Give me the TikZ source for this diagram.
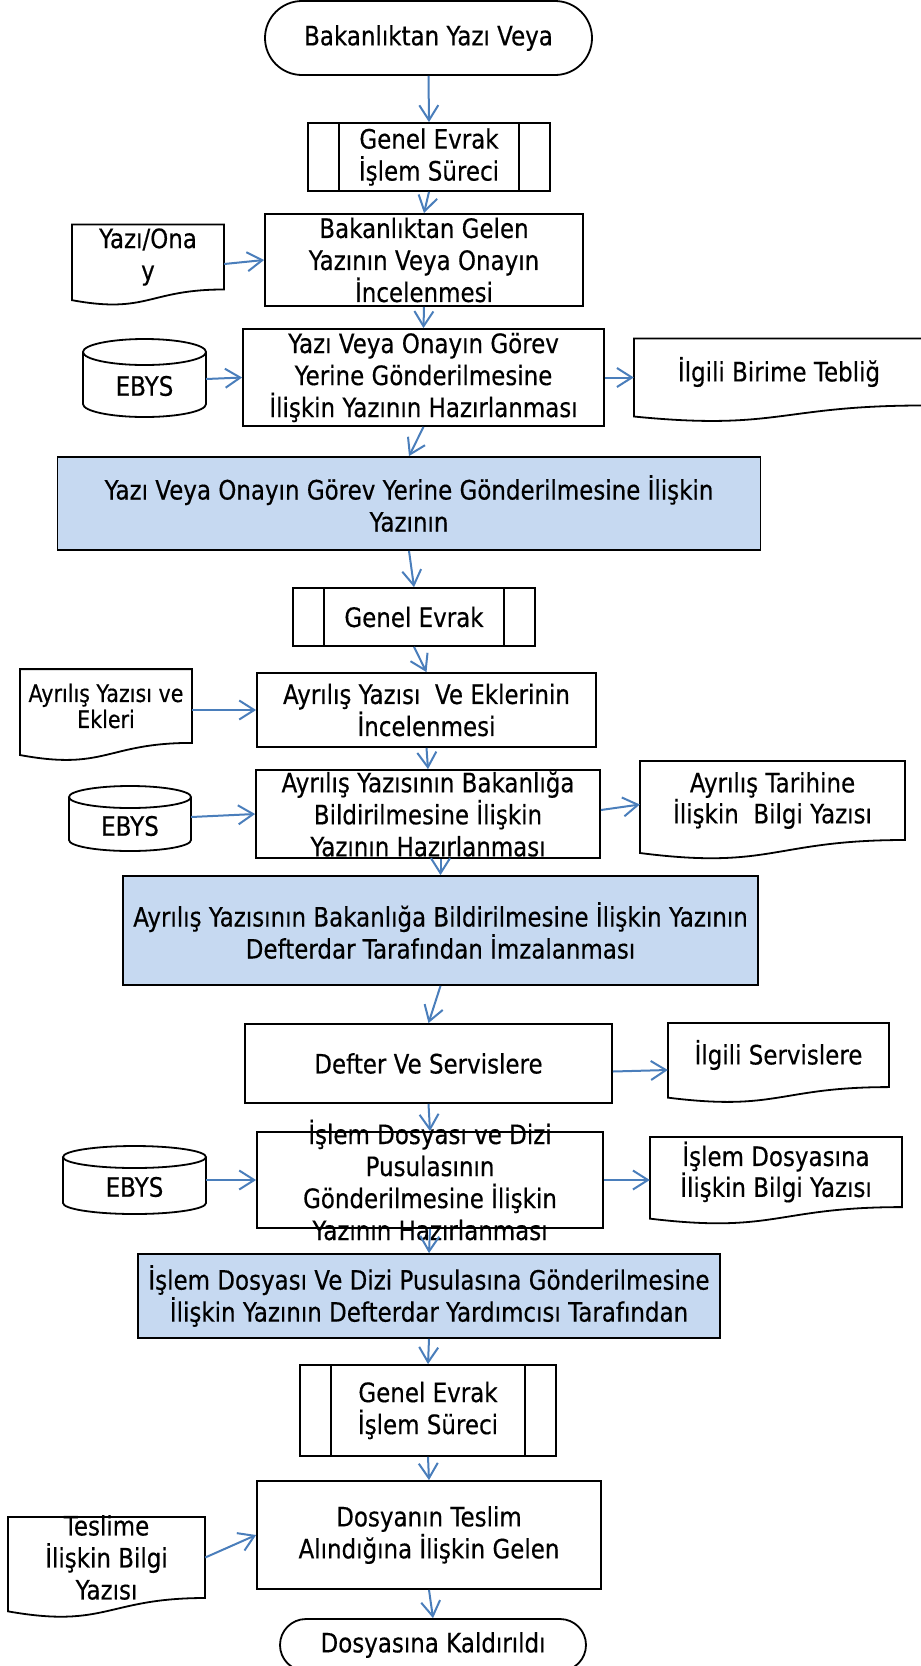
\documentclass[tikz,border=0pt]{standalone}
\usepackage{fontspec}
\setmainfont{DejaVu Sans}[FakeStretch=0.86, FakeBold=0.4]
\usetikzlibrary{calc}
\usetikzlibrary{shapes.misc}
\usetikzlibrary{arrows.meta}

\definecolor{flowblue}{RGB}{74,126,187}
\definecolor{boxblue}{RGB}{198,217,241}

\tikzset{
  txt/.style={align=center, font=\fontsize{26.7pt}{32pt}\selectfont},
  smalltxt/.style={align=center, font=\fontsize{24pt}{26pt}\selectfont},
  tighttxt/.style={align=center, font=\fontsize{26.7pt}{23pt}\selectfont},
  shapeline/.style={draw=black, line width=1.8pt},
  proc/.style={shapeline, rectangle, inner sep=0pt},
  imza/.style={proc, fill=boxblue},
  predef/.style={proc, path picture={
    \draw[line width=1.8pt] ([xshift=31pt]path picture bounding box.north west) -- ([xshift=31pt]path picture bounding box.south west)
      ([xshift=-31pt]path picture bounding box.north east) -- ([xshift=-31pt]path picture bounding box.south east);}},
  term/.style={shapeline, rounded rectangle, inner sep=0pt, txt},
  holder/.style={rectangle, inner sep=0pt},
  flow/.style={draw=flowblue, line width=2pt, -{Straight Barb[length=15pt,width=19pt]}}
}

% document outline: node, half width, frame height
\newcommand{\docline}[3]{%
  \draw[shapeline] ($(#1.center)+(-#2,-0.401*#3)$) -- ++(2*#2,0) -- ++(0,0.802*#3)
    .. controls ($(#1.center)+(0,0.401*#3)$) and ($(#1.center)+(0,0.706*#3)$) .. ($(#1.center)+(-#2,0.533*#3)$) -- cycle;}
% cylinder outline: node, half width, up, down, ellipse radius
\newcommand{\cylline}[5]{%
  \draw[shapeline] ($(#1.center)+(-#2,-#3+#5)$) -- ($(#1.center)+(-#2,#4-#5)$)
    arc[start angle=180, end angle=360, x radius=#2pt, y radius=#5pt] -- ($(#1.center)+(#2,-#3+#5)$);
  \draw[shapeline] ($(#1.center)+(0,-#3+#5)$) ellipse[x radius=#2pt, y radius=#5pt];}

\begin{document}
\begin{tikzpicture}[x=1pt, y=-1pt]
\useasboundingbox (0,0) rectangle (921,1666);
\clip (0,0) rectangle (921,1666);

\node[term, minimum width=327pt, minimum height=74pt] (start) at (428.5,38) {Bakanlıktan Yazı Veya};
\node[predef, minimum width=242pt, minimum height=68pt, label={[txt]center:Genel Evrak\\İşlem Süreci}] (gen1) at (429,157) {};
\node[proc, minimum width=318pt, minimum height=92pt, label={[txt]center:Bakanlıktan Gelen\\Yazının Veya Onayın\\İncelenmesi}] (inc1) at (424,260) {};
\node[proc, minimum width=361pt, minimum height=97pt, label={[txt]center:Yazı Veya Onayın Görev\\Yerine Gönderilmesine\\İlişkin Yazının Hazırlanması}] (haz1) at (423.5,377.5) {};
\node[imza, minimum width=703pt, minimum height=93pt, label={[txt]center:Yazı Veya Onayın Görev Yerine Gönderilmesine İlişkin\\Yazının}] (imza1) at (409,503.5) {};
\node[predef, minimum width=242pt, minimum height=58pt, label={[txt]center:Genel Evrak}] (gen2) at (414,617) {};
\node[proc, minimum width=339pt, minimum height=74pt, label={[txt]center:Ayrılış Yazısı\ \ Ve Eklerinin\\İncelenmesi}] (inc2) at (426.5,710) {};
\node[proc, minimum width=344pt, minimum height=88pt, label={[txt]center:Ayrılış Yazısının Bakanlığa\\Bildirilmesine İlişkin\\Yazının Hazırlanması}] (haz2) at (428,814) {};
\node[imza, minimum width=635pt, minimum height=109pt, label={[txt]center:Ayrılış Yazısının Bakanlığa Bildirilmesine İlişkin Yazının\\Defterdar Tarafından İmzalanması}] (imza2) at (440.5,930.5) {};
\node[proc, minimum width=367pt, minimum height=79pt, label={[txt]center:Defter Ve Servislere}] (defter) at (428.5,1063.5) {};
\node[proc, minimum width=346pt, minimum height=96pt, label={[txt]center:İşlem Dosyası ve Dizi\\Pusulasının\\Gönderilmesine İlişkin\\Yazının Hazırlanması}] (haz3) at (430,1180) {};
\node[imza, minimum width=582pt, minimum height=84pt, label={[txt]center:İşlem Dosyası Ve Dizi Pusulasına Gönderilmesine\\İlişkin Yazının Defterdar Yardımcısı Tarafından}] (imza3) at (429,1296) {};
\node[predef, minimum width=256pt, minimum height=91pt, label={[txt]center:Genel Evrak\\İşlem Süreci}] (gen3) at (428,1410.5) {};
\node[proc, minimum width=344pt, minimum height=108pt, label={[txt]center:Dosyanın Teslim\\Alındığına İlişkin Gelen}] (teslim) at (429,1535) {};
\node[term, minimum width=306pt, minimum height=52pt] (end) at (433,1645) {Dosyasına Kaldırıldı};

% documents
\node[holder, minimum width=152pt, minimum height=65pt, label={[txt]center:Yazı/Ona\\y}] (d1) at (148,257) {};
\node[holder, minimum width=290pt, minimum height=67pt, label={[txt]center:İlgili Birime Tebliğ}] (d2) at (779,372) {};
\node[holder, minimum width=172pt, minimum height=74pt, label={[smalltxt]center:Ayrılış Yazısı ve\\Ekleri}] (d3) at (106,706) {};
\node[holder, minimum width=265pt, minimum height=79pt, label={[tighttxt]center:Ayrılış Tarihine\\İlişkin\ \ Bilgi Yazısı}] (d4) at (772.5,800.5) {};
\node[holder, minimum width=221pt, minimum height=64pt, label={[txt]center:İlgili Servislere}] (d5) at (778.5,1055) {};
\node[holder, minimum width=252pt, minimum height=70pt, label={[tighttxt]center:İşlem Dosyasına\\İlişkin Bilgi Yazısı}] (d6) at (776,1172) {};
\node[holder, minimum width=197pt, minimum height=81pt, label={[txt]center:Teslime\\İlişkin Bilgi\\Yazısı}] (d7) at (106.5,1557.5) {};
\docline{d1}{76}{81}
\docline{d2}{145}{83.5}
\docline{d3}{86}{92}
\docline{d4}{132.5}{98.5}
\docline{d5}{110.5}{80}
\docline{d6}{126}{87.5}
\docline{d7}{98.5}{101}

% databases
\node[holder, minimum width=123pt, label={[txt]center:EBYS}] (c1) at (144.5,386) {};
\node[holder, minimum width=122pt, label={[txt]center:EBYS}] (c2) at (130,826) {};
\node[holder, minimum width=143pt, label={[txt]center:EBYS}] (c3) at (134.5,1187) {};
\cylline{c1}{61.5}{47}{31}{13}
\cylline{c2}{61}{40}{25}{11}
\cylline{c3}{71.5}{41}{27}{11}

\draw[flow] (start.south) -- (gen1.north);
\draw[flow] (gen1.south) -- (inc1.north);
\draw[flow] ([shift={(0,7)}]d1.east) -- (inc1.west);
\draw[flow] (inc1.south) -- (haz1.north);
\draw[flow] ([shift={(0,-7)}]c1.east) -- (haz1.west);
\draw[flow] (haz1.east) -- (haz1.east -| d2.west);
\draw[flow] (haz1.south) -- (imza1.north);
\draw[flow] (imza1.south) -- (gen2.north);
\draw[flow] (gen2.south) -- (inc2.north);
\draw[flow] (d3.east |- inc2.west) -- (inc2.west);
\draw[flow] (inc2.south) -- (haz2.north);
\draw[flow] ([shift={(0,-9)}]c2.east) -- (haz2.west);
\draw[flow] ([shift={(0,-4)}]haz2.east) -- ([shift={(0,4)}]d4.west);
\draw[flow] (haz2.south -| imza2.north) -- (imza2.north);
\draw[flow] (imza2.south) -- (defter.north);
\draw[flow] ([shift={(0,8)}]defter.east) -- ([shift={(0,15)}]d5.west);
\draw[flow] (defter.south) -- (haz3.north);
\draw[flow] (haz3.west -| c3.east) -- (haz3.west);
\draw[flow] (haz3.east) -- (haz3.east -| d6.west);
\draw[flow] (haz3.south) -- (imza3.north);
\draw[flow] (imza3.south) -- (gen3.north);
\draw[flow] (gen3.south) -- (teslim.north);
\draw[flow] (d7.east) -- (teslim.west);
\draw[flow] (teslim.south) -- (end.north);

\end{tikzpicture}
\end{document}
